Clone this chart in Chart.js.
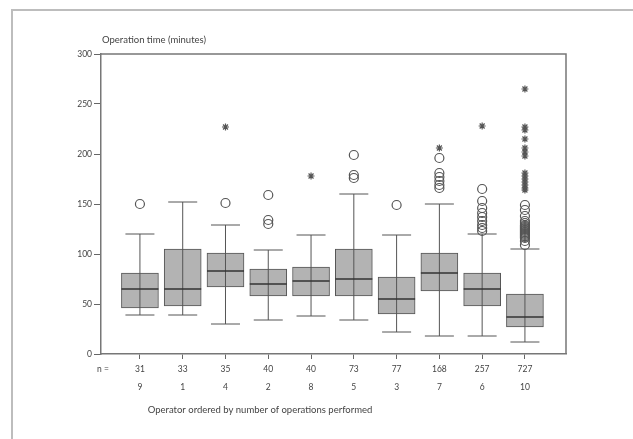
<!DOCTYPE html>
<html lang="en">
<head>
  <meta charset="UTF-8">
  <title>Operation time by operator</title>
  <script src="https://cdn.jsdelivr.net/npm/chart.js"></script>
  <style>
    body { margin: 0; background: #fff; }
    .frame {
      position: absolute; left: 11px; top: 9px; width: 700px; height: 500px;
      border-left: 2px solid #bdbdbd; border-top: 2px solid #bdbdbd;
    }
    #myChart { position: absolute; left: 0; top: 0; }
  </style>
</head>
<body>
  <div class="frame"></div>
  <canvas id="myChart" width="633" height="439"></canvas>
  <script>
    // n per operator and operator id (x tick labels)
    const nLabels = ['31', '33', '35', '40', '40', '73', '77', '168', '257', '727']
    const operators = ['9', '1', '4', '2', '8', '5', '3', '7', '6', '10']

    // box plot values (minutes)
    const q1 = [46, 48, 67, 58, 58, 58, 40, 63, 48, 27]
    const q3 = [81, 105, 101, 85, 87, 105, 77, 101, 81, 60]
    const medians = [65, 65, 83, 70, 73, 75, 55, 81, 65, 37]
    const whiskerLow = [39, 39, 30, 34, 38, 34, 22, 18, 18, 12]
    const whiskerHigh = [120, 152, 129, 104, 119, 160, 119, 150, 120, 105]

    // outliers (circles) and extreme values (asterisks)
    const circleOutliers = [
      [150], [], [151], [159, 134, 130], [], [199, 179, 176], [149],
      [196, 181, 177, 173, 169, 166],
      [165, 153, 146, 141, 137, 133, 129, 126, 123],
      [149, 144, 138, 133, 131, 129, 128, 127, 126, 125, 124, 123, 122, 121, 120, 119, 118, 117, 116, 113, 109]
    ]
    const starOutliers = [
      [], [], [227], [], [178], [], [], [206], [228],
      [265, 227, 224, 215, 206, 202, 198, 181, 178, 175, 172, 169, 166, 164]
    ]

    const positions = nLabels.map((_, i) => i + 1)
    const dark = '#555'

    const boxData = positions.map((x, i) => ({ x: x, y: [q1[i], q3[i]] }))
    const whiskerData = []
    positions.forEach((x, i) => {
      whiskerData.push({ x: x, y: whiskerLow[i] }, { x: x, y: whiskerHigh[i] }, { x: x, y: null })
    })
    const capData = []
    positions.forEach((x, i) => {
      capData.push({ x: x, y: whiskerLow[i] }, { x: x, y: whiskerHigh[i] })
    })
    const medianData = positions.map((x, i) => ({ x: x, y: medians[i] }))
    const circleData = []
    circleOutliers.forEach((list, i) => list.forEach(v => circleData.push({ x: positions[i], y: v })))
    const starData = []
    starOutliers.forEach((list, i) => list.forEach(v => starData.push({ x: positions[i], y: v })))

    const textColor = '#444'
    const fontFamily = 'Lato, "DejaVu Sans", sans-serif'

    const extras = {
      id: 'extras',
      afterDraw(chart) {
        const { ctx, chartArea } = chart
        ctx.save()
        ctx.strokeStyle = '#777'
        ctx.lineWidth = 1.5
        ctx.beginPath()
        ctx.moveTo(chartArea.left, chartArea.top)
        ctx.lineTo(chartArea.right, chartArea.top)
        ctx.lineTo(chartArea.right, chartArea.bottom)
        ctx.stroke()
        ctx.fillStyle = textColor
        ctx.font = '9.5px ' + fontFamily
        ctx.textBaseline = 'middle'
        ctx.textAlign = 'left'
        ctx.fillText('Operation time (minutes)', 102, 40)
        ctx.textAlign = 'center'
        ctx.fillText('Operator ordered by number of operations performed', 260, 410)
        ctx.font = '8.5px ' + fontFamily
        ctx.fillText('n =', 103, 369)
        ctx.restore()
      }
    }

    const ctx = document.getElementById('myChart')
    new Chart(ctx, {
      type: 'bar',
      data: {
        datasets: [
          {
            type: 'bar',
            data: boxData,
            backgroundColor: '#b3b3b3',
            borderColor: dark,
            borderWidth: 1,
            borderSkipped: false,
            barThickness: 37,
            order: 5
          },
          {
            type: 'line',
            data: whiskerData,
            borderColor: dark,
            borderWidth: 1,
            pointRadius: 0,
            spanGaps: false,
            order: 4
          },
          {
            type: 'scatter',
            data: capData,
            pointStyle: 'line',
            pointRadius: 14.5,
            borderColor: dark,
            borderWidth: 1,
            order: 3
          },
          {
            type: 'scatter',
            data: medianData,
            pointStyle: 'line',
            pointRadius: 18.5,
            borderColor: '#333',
            borderWidth: 1.5,
            order: 2
          },
          {
            type: 'scatter',
            data: circleData,
            pointStyle: 'circle',
            pointRadius: 4.5,
            backgroundColor: 'rgba(0,0,0,0)',
            borderColor: '#555',
            borderWidth: 1.2,
            order: 1
          },
          {
            type: 'scatter',
            data: starData,
            pointStyle: 'star',
            pointRadius: 3.5,
            borderColor: '#555',
            borderWidth: 1.2,
            order: 1
          }
        ]
      },
      options: {
        responsive: false,
        animation: false,
        layout: { padding: { left: 0, top: 54, right: 67, bottom: 0 } },
        plugins: { legend: { display: false }, tooltip: { enabled: false } },
        scales: {
          x: {
            type: 'linear',
            offset: false,
            min: 0.09,
            max: 10.96,
            afterBuildTicks: scale => { scale.ticks = positions.map(v => ({ value: v })) },
            afterFit: scale => { scale.height = 85 },
            grid: { offset: false, drawOnChartArea: false, tickLength: 5, color: '#666' },
            border: { color: '#777', width: 1.5 },
            ticks: {
              autoSkip: false,
              maxRotation: 0,
              padding: 1,
              color: textColor,
              font: { family: fontFamily, size: 8.5, lineHeight: 2.1 },
              callback: v => [nLabels[v - 1], operators[v - 1]]
            }
          },
          y: {
            min: 0,
            max: 300,
            afterFit: scale => { scale.width = 101 },
            grid: { drawOnChartArea: false, tickLength: 7, color: '#666' },
            border: { color: '#777', width: 1.5 },
            ticks: {
              stepSize: 50,
              padding: 2,
              color: textColor,
              font: { family: fontFamily, size: 8.5 }
            }
          }
        }
      },
      plugins: [extras]
    })
  </script>
</body>
</html>
